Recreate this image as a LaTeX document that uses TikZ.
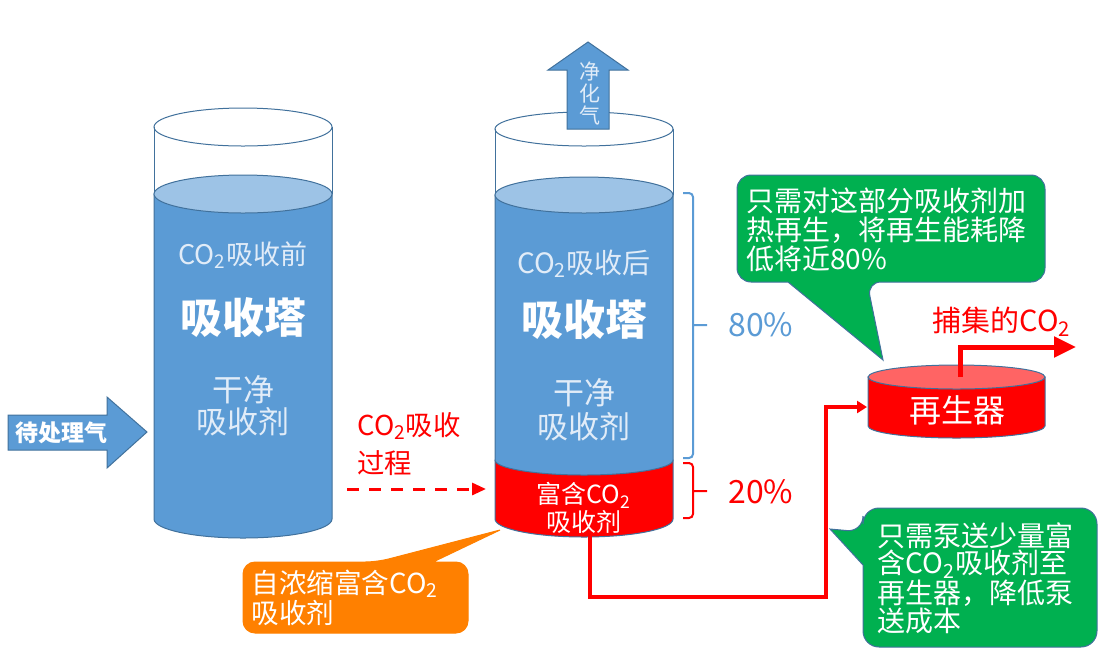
\documentclass[tikz,border=0pt]{standalone}
\usepackage{fontspec}
\setmainfont{Noto Sans CJK SC}
\usetikzlibrary{arrows.meta}
\definecolor{towerblue}{RGB}{91,155,213}
\definecolor{surfblue}{RGB}{157,195,230}
\definecolor{edgeblue}{RGB}{65,113,156}
\definecolor{paleblue}{RGB}{225,236,248}
\definecolor{regentop}{RGB}{255,100,100}
\definecolor{notegreen}{RGB}{0,176,80}
\definecolor{noteorange}{RGB}{255,128,0}
\tikzset{>={Triangle[length=7pt,width=6pt]},
  glass/.style={draw=edgeblue,line width=0.5pt},
  fs/.style 2 args={inner sep=0pt,font=\fontsize{#1}{#2}\selectfont},
  pipe/.style={red,line width=2pt},
  bracket/.style={line width=1pt,rounded corners=2pt},
  note/.style={draw=edgeblue,line width=0.5pt}}

\begin{document}
\begin{tikzpicture}[x=0.5pt,y=-0.5pt]
  \useasboundingbox (0,0) rectangle (1108,655);
  % tower before absorption
  \draw[glass,fill=white] (243,127) ellipse [x radius=89,y radius=19];
  \draw[glass] (154,127) -- (154,194) (332,127) -- (332,194);
  \draw[glass,fill=towerblue] (154,194) -- (154,519) arc [start angle=180,end angle=0,x radius=89,y radius=19] -- (332,194) -- cycle;
  \draw[glass,fill=surfblue] (243,194) ellipse [x radius=89,y radius=19];
  \node[fs={13.5}{14},text=paleblue] (before) at (243,255) {CO\textsubscript{2}吸收前};
  \node[fs={21}{21},text=white] (tower1) at (243,318) {\bfseries 吸收塔};
  \node[fs={15.5}{16},text=paleblue,align=center] (clean1) at (243,406) {干净\\吸收剂};
  % gas in
  \draw[glass,fill=towerblue] (8,415) -- (107,415) -- (107,397) -- (147,432) -- (107,468) -- (107,450) -- (8,450) -- cycle;
  \node[fs={11.5}{12},text=white] (gasin) at (62,433) {\bfseries 待处理气};

  % tower after absorption
  \draw[glass,fill=white] (584,129) ellipse [x radius=89,y radius=17];
  \draw[glass] (495,129) -- (495,195) (673,129) -- (673,195);
  \draw[glass,fill=red] (495,460) -- (495,519) arc [start angle=180,end angle=0,x radius=89,y radius=18] -- (673,460) -- cycle;
  \draw[glass,fill=towerblue] (495,195) -- (495,460) arc [start angle=180,end angle=0,x radius=89,y radius=15] -- (673,195) -- cycle;
  \draw[glass,fill=surfblue] (584,195) ellipse [x radius=89,y radius=18];
  \draw[glass,fill=towerblue] (567,129) -- (567,70) -- (548,70) -- (588,42) -- (628,70) -- (609,70) -- (609,129) -- cycle;
  \node[fs={10.5}{11},text=paleblue,align=center] (cleangas) at (590,93) {净\\化\\气};
  \node[fs={14}{14},text=paleblue] (after) at (584,264) {CO\textsubscript{2}吸收后};
  \node[fs={21}{21},text=white] (tower2) at (584,320) {\bfseries 吸收塔};
  \node[fs={15.5}{17},text=paleblue,align=center] (clean2) at (584,410) {干净\\吸收剂};
  \node[fs={12.5}{12},text=white,align=center] (rich) at (584,508) {富含CO\textsubscript{2}\\吸收剂};

  % shares
  \draw[bracket,towerblue] (683,193) -- (693,193) -- (693,458) -- (683,458) (693,325) -- (707,325);
  \draw[bracket,red] (683,463) -- (693,463) -- (693,518) -- (683,518) (693,491) -- (707,491);
  \node[fs={16}{16},text=towerblue,anchor=west] (share80) at (728,325) {80\%};
  \node[fs={16}{16},text=red,anchor=west] (share20) at (728,492) {20\%};

  % absorption step
  \coordinate (dashstart) at (347,489);
  \coordinate (dashend) at (486,489);
  \draw[->,red,line width=1.5pt,dash pattern=on 6pt off 5pt] (dashstart) -- (dashend);
  \node[fs={13.7}{19},text=red,align=left,anchor=west] (process) at (357,444) {CO\textsubscript{2}吸收\\过程};

  % regenerator
  \draw[glass,fill=red] (868,377) -- (868,426) arc [start angle=180,end angle=0,x radius=88.5,y radius=12] -- (1045,377) -- cycle;
  \draw[glass,fill=regentop] (956.5,377) ellipse [x radius=88.5,y radius=12];
  \node[fs={16}{16},text=white] (regen) at (957,410) {再生器};
  \coordinate (pumpout) at (590,535);
  \coordinate (bend) at (826,597);
  \coordinate (regenin) at (867,407);
  \draw[pipe,-{Triangle[length=5pt,width=6pt]}] (pumpout) |- (bend) |- (regenin);
  \coordinate (regenout) at (960,377);
  \coordinate (co2out) at (1076,347);
  \draw[red,line width=2.5pt,-{Triangle[length=11pt,width=10pt]}] (regenout) |- (co2out);
  \node[fs={14.5}{15},text=red,anchor=west] (captured) at (932,322) {捕集的CO\textsubscript{2}};

  % callouts
  \draw[note,fill=notegreen] (883,360) -- (788,282) [rounded corners=7pt] -- (737,282) -- (737,175) -- (1045,175) -- (1045,282) -- (867,282) [sharp corners] -- cycle;
  \node[fs={14}{14.5},text=white,align=left,anchor=west] (note1) at (746,230) {只需对这部分吸收剂加\\热再生，将再生能耗降\\低将近80\%};
  \draw[note,fill=notegreen] (830,529) -- (863,565) [rounded corners=8pt] -- (863,647) -- (1097,647) -- (1097,508) -- (863,508) -- (863,532) [sharp corners] -- cycle;
  \node[fs={14}{13.7},text=white,align=left,anchor=west] (note2) at (877,578) {只需泵送少量富\\含CO\textsubscript{2}吸收剂至\\再生器，降低泵\\送成本};
  \draw[note,draw=noteorange,fill=noteorange] (500,530) -- (433,562) [rounded corners=6pt] -- (468,562) -- (468,633) -- (243,633) -- (243,562) -- (377,562) [sharp corners] -- cycle;
  \node[fs={13.8}{15},text=white,align=left,anchor=west] (note3) at (251,598) {自浓缩富含CO\textsubscript{2}\\吸收剂};
\end{tikzpicture}
\end{document}
